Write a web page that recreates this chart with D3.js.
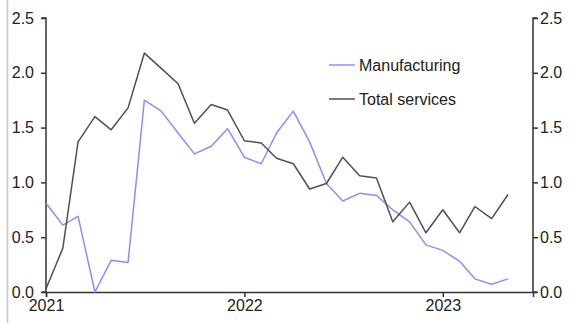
<!DOCTYPE html>
<html>
<head>
<meta charset="utf-8">
<script src="https://cdn.jsdelivr.net/npm/d3@7"></script>
<style>
body{margin:0;background:#fff;}
svg text{font-family:"Liberation Sans",Arial,sans-serif;fill:#222;}
</style>
</head>
<body>
<div id="chart"></div>
<script>
// monthly, Jan 2021 - May 2023
var months = d3.range(29).map(function(i){ return new Date(2021, i, 1); });
var manufacturing = [0.81,0.61,0.69,0.00,0.29,0.27,1.75,1.65,1.45,1.26,1.33,1.49,1.23,1.17,1.45,1.65,1.37,0.99,0.83,0.90,0.88,0.75,0.64,0.43,0.38,0.28,0.12,0.07,0.12];
var services = [0.03,0.40,1.37,1.60,1.48,1.68,2.18,2.04,1.90,1.54,1.71,1.66,1.38,1.36,1.22,1.17,0.94,0.99,1.23,1.06,1.04,0.64,0.82,0.54,0.75,0.54,0.78,0.67,0.89];
var yTicks = [0, 0.5, 1.0, 1.5, 2.0, 2.5];
var xTicks = [new Date(2021,0,1), new Date(2022,0,1), new Date(2023,0,1)];
var seriesNames = ["Manufacturing", "Total services"];
var seriesColors = ["#8c8cff", "#505050"];

var W = 571, H = 323;
var mLeft = 46, mRight = 533, mTop = 18, mBottom = 292;

var svg = d3.select("#chart").append("svg")
    .attr("width", W).attr("height", H);

// frame line on the left
svg.append("line").attr("x1", 7.5).attr("x2", 7.5).attr("y1", 0).attr("y2", H)
    .attr("stroke", "#c8c8c8").attr("stroke-width", 1.5);

var x = d3.scaleTime()
    .domain([new Date(2021,0,1), new Date(2023,5,16)])
    .range([mLeft, mRight]);
var y = d3.scaleLinear().domain([0, 2.5]).range([mBottom, mTop]);

var fmt = d3.format(".1f");

var yl = svg.append("g").attr("transform", "translate(" + mLeft + ",0)")
    .call(d3.axisLeft(y).tickValues(yTicks).tickFormat(fmt).tickSize(5).tickPadding(7));
var yr = svg.append("g").attr("transform", "translate(" + mRight + ",0)")
    .call(d3.axisRight(y).tickValues(yTicks).tickFormat(fmt).tickSize(5).tickPadding(2));
var xa = svg.append("g").attr("transform", "translate(0," + mBottom + ")")
    .call(d3.axisBottom(x).tickValues(xTicks).tickFormat(d3.timeFormat("%Y")).tickSize(5).tickPadding(3));

[yl, yr, xa].forEach(function(g){
    g.select(".domain").attr("stroke", "#333").attr("stroke-width", 1.5);
    g.selectAll(".tick line").attr("stroke", "#333").attr("stroke-width", 1.5);
    g.selectAll("text").style("font-size", "16px").attr("fill", "#222");
});
yl.select(".domain").attr("d", "M-4," + mTop + "H0V" + mBottom + "H-4");
yr.select(".domain").attr("d", "M4," + mTop + "H0V" + mBottom + "H4");

var line = d3.line()
    .x(function(d, i){ return x(months[i]); })
    .y(function(d){ return y(d); });

[manufacturing, services].forEach(function(s, k){
    svg.append("path").datum(s)
        .attr("fill", "none")
        .attr("stroke", seriesColors[k])
        .attr("stroke-width", 1.5)
        .attr("stroke-linejoin", "round")
        .attr("d", line);
});

// legend
var lg = svg.append("g").attr("transform", "translate(329,65)");
seriesNames.forEach(function(n, k){
    var row = lg.append("g").attr("transform", "translate(0," + (k * 34) + ")");
    row.append("line").attr("x1", 0).attr("x2", 26).attr("y1", 0).attr("y2", 0)
        .attr("stroke", seriesColors[k]).attr("stroke-width", 1.5);
    row.append("text").attr("x", 30).attr("y", 0).attr("dy", "0.35em")
        .style("font-size", "16px").text(n);
});
</script>
</body>
</html>
